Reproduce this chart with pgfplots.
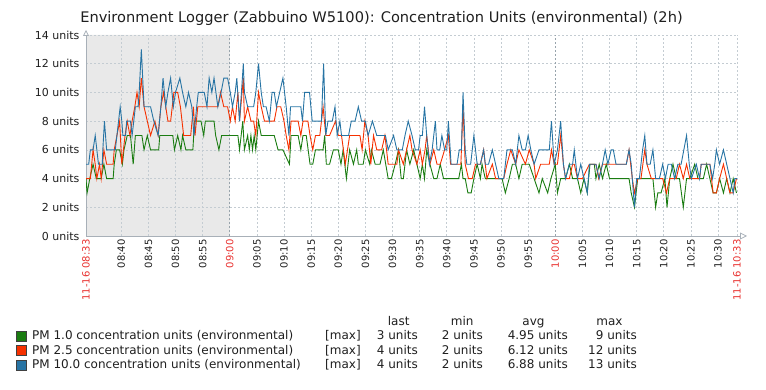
\documentclass[border=0pt]{standalone}
\usepackage{fontspec}
\setmainfont{DejaVu Sans}
\usepackage{pgfplots}
\pgfplotsset{compat=1.18}
\usetikzlibrary{arrows.meta}
\definecolor{cgreen}{HTML}{1A7C11}
\definecolor{cred}{HTML}{F63100}
\definecolor{cblue}{HTML}{2774A4}
\definecolor{gridc}{HTML}{C4CCD2}
\definecolor{gridh}{HTML}{98A4AC}
\definecolor{axisc}{HTML}{A8B0B8}
\definecolor{shade}{HTML}{E9E9E9}
\definecolor{txt}{HTML}{1F1F1F}
\definecolor{tred}{HTML}{E8312F}
\begin{document}
\begin{tikzpicture}[x=1pt,y=1pt]
\path (0,0) rectangle (766,390);
\node[anchor=base, font=\fontsize{14.6}{16}\selectfont, text=txt] at (381.5,367) {Environment Logger (Zabbuino W5100): Concentration Units (environmental) (2h)};
\begin{axis}[
 set layers,
 scale only axis, width=651pt, height=201pt,
 at={(86pt,154pt)}, anchor=south west,
 xmin=33.5, xmax=153.5, ymin=0, ymax=14,
 axis x line=bottom, axis y line=left,
 axis line style={draw=axisc, line width=0.8pt},
 x axis line style={-{Triangle[open,length=7pt,width=7pt]}, shorten >=-10pt},
 y axis line style={-{Triangle[open,length=6pt,width=6pt]}, shorten >=-5pt},
 major tick length=0pt,
 xmajorgrids, ymajorgrids,
 major grid style={draw=gridc, dash pattern=on 2pt off 2pt, line width=0.6pt},
 ytick={0,2,4,6,8,10,12,14},
 yticklabels={0 units,2 units,4 units,6 units,8 units,10 units,12 units,14 units},
 yticklabel style={font=\fontsize{11}{12}\selectfont, text=txt, xshift=-3pt},
 xtick={33.5,40,45,50,55,60,65,70,75,80,85,90,95,100,105,110,115,120,125,130,135,140,145,150,153.5},
 xticklabels={\textcolor{tred}{11-16 08:33},08:40,08:45,08:50,08:55,\textcolor{tred}{09:00},09:05,09:10,09:15,09:20,09:25,09:30,09:35,09:40,09:45,09:50,09:55,\textcolor{tred}{10:00},10:05,10:10,10:15,10:20,10:25,10:30,\textcolor{tred}{11-16 10:33}},
 xticklabel style={rotate=90, anchor=east, font=\fontsize{10}{11}\selectfont, text=txt},
 clip=true,
]
\addplot[fill=shade, draw=none, on layer=axis background, forget plot] coordinates {(33.5,0)(60,0)(60,14)(33.5,14)} \closedcycle;
\draw[gridh, dash pattern=on 2pt off 2pt, line width=0.6pt] (axis cs:60,0) -- (axis cs:60,14);
\draw[gridh, dash pattern=on 2pt off 2pt, line width=0.6pt] (axis cs:120,0) -- (axis cs:120,14);
\addplot[cgreen, line width=0.9pt] coordinates {
(33.5,4)(33.7,3)(34.2,4)(34.8,5)(35.4,4)(36.3,4)(36.8,5)(37.3,4)(38.5,4)(38.7,5)(39.1,6)(39.7,6)(40.2,5)(40.5,6)(41.1,7)(41.7,7)(42.2,5)(42.6,7)(43.8,7)(44.2,6)(44.8,7)(45.4,6)(46.9,6)(47.1,7)(49.5,7)(49.8,6)(50.4,7)(51.0,6)(51.3,7)(51.9,6)(53.2,6)(53.5,8)(54.7,8)(55.2,7)(55.5,8)(57.1,8)(57.4,7)(58.0,6)(58.5,7)(61.5,7)(61.8,6)(62.4,8)(62.7,6)(63.3,7)(63.6,6)(63.9,7)(64.2,6)(64.5,7)(64.8,6)(65.3,8)(65.8,7)(68.2,7)(68.9,6)(69.8,6)(71.0,5)(71.3,7)(72.6,7)(73.1,6)(73.5,7)(74.1,7)(74.8,5)(75.3,5)(75.8,6)(77.2,6)(77.5,7)(77.8,5)(78.4,5)(79.1,6)(80.0,6)(80.5,5)(80.9,6)(81.5,4)(82.1,6)(82.8,5)(83.4,6)(83.7,5)(84.6,5)(85.0,6)(85.8,5)(86.1,6)(86.8,5)(87.7,5)(88.3,6)(89.2,4)(89.8,4)(90.5,5)(91.1,6)(91.6,4)(92.0,4)(92.6,6)(93.2,5)(93.9,6)(94.5,5)(95.1,4)(95.5,5)(95.9,4)(96.3,6)(96.9,5)(97.6,4)(98.2,4)(98.8,5)(99.4,4)(102.2,4)(102.7,5)(103.0,4)(103.4,4)(103.9,3)(104.5,3)(105.0,4)(105.6,5)(106.2,4)(106.5,5)(107.1,4)(110.2,4)(110.8,3)(111.5,4)(112.1,5)(112.7,5)(113.3,4)(113.9,5)(115.2,5)(116.1,4)(117.0,3)(117.6,4)(118.6,3)(119.2,4)(120.0,5)(120.4,3)(121.0,4)(121.9,4)(122.6,5)(123.2,4)(123.5,4)(124.1,4)(124.7,3)(125.3,4)(125.9,3)(126.4,5)(127.2,5)(127.5,4)(128.1,5)(128.7,4)(129.4,5)(130.0,4)(133.6,4)(134.0,3)(134.6,2)(135.2,4)(138.0,4)(138.5,2)(138.9,3)(139.5,3)(140.2,4)(140.6,2)(141.1,4)(141.7,5)(142.3,4)(142.9,4)(143.6,2)(144.2,4)(144.8,4)(145.7,5)(146.3,4)(147.3,4)(147.9,5)(148.5,4)(149.1,3)(149.7,3)(150.3,4)(151.0,3)(151.6,4)(152.2,3)(152.8,4)(153.4,3)
};
\addplot[cred, line width=0.9pt] coordinates {
(33.5,4)(34.3,4)(34.8,6)(35.2,5)(35.5,4)(36.0,5)(36.3,4)(36.8,6)(37.3,5)(38.5,5)(38.7,6)(39.2,7)(39.7,8)(40.1,5)(40.7,7)(41.1,8)(41.6,7)(42.0,8)(42.5,9)(42.9,10)(43.3,9)(43.7,11)(44.2,9)(44.8,8)(45.4,7)(46.2,8)(46.8,7)(47.3,9)(47.8,10)(48.2,9)(48.6,8)(49.1,8)(49.7,10)(50.4,10)(50.9,9)(51.5,7)(52.8,7)(53.3,9)(53.6,7)(54.1,9)(57.8,9)(58.3,10)(58.9,9)(59.6,9)(60.1,8)(60.5,9)(61.0,8)(61.5,10)(61.8,8)(62.5,11)(62.7,8)(63.3,9)(63.9,8)(64.4,8)(64.8,7)(65.3,10)(65.8,9)(66.4,8)(68.2,8)(68.7,9)(69.4,9)(70.0,8)(70.4,7)(70.9,6)(71.3,8)(72.6,8)(73.1,7)(73.5,8)(74.4,8)(74.8,7)(75.3,6)(75.8,7)(76.6,7)(77.2,9)(77.7,7)(78.4,7)(79.5,8)(80.0,7)(80.6,7)(81.3,5)(82.1,7)(84.0,7)(84.4,6)(84.9,8)(85.5,7)(86.0,5)(86.5,7)(87.1,6)(88.0,6)(88.6,7)(89.2,5)(90.8,5)(91.1,6)(92.0,5)(92.6,6)(93.2,7)(93.6,6)(94.5,5)(95.1,6)(95.5,5)(96.0,6)(96.3,7)(96.9,5)(97.6,6)(98.2,5)(98.8,5)(99.6,6)(100.3,7)(100.7,5)(102.6,5)(103.0,9)(103.4,5)(104.0,4)(104.7,4)(105.3,5)(106.2,5)(106.8,6)(107.4,4)(108.4,5)(109.0,4)(110.5,4)(111.1,5)(111.8,6)(112.7,5)(113.3,6)(114.5,5)(115.2,6)(116.1,5)(116.4,4)(117.3,5)(118.9,5)(119.3,6)(119.8,5)(120.4,5)(121.0,7)(121.5,5)(121.9,4)(122.6,4)(123.2,5)(123.5,5)(124.1,4)(125.0,4)(126.3,5)(127.5,5)(128.0,4)(128.7,5)(133.1,5)(133.6,6)(134.2,4)(134.6,3)(135.2,4)(135.8,4)(136.5,6)(136.9,5)(137.7,4)(139.8,4)(140.5,3)(141.1,4)(142.3,4)(142.9,5)(143.6,4)(144.2,5)(144.8,4)(146.6,4)(146.9,5)(148.5,5)(149.1,3)(149.7,3)(150.3,4)(151.0,5)(151.6,4)(152.2,3)(152.8,3)(153.4,4)
};
\addplot[cblue, line width=0.9pt] coordinates {
(33.5,5)(34.0,5)(34.3,6)(34.8,6)(35.2,7)(35.5,6)(35.8,5)(36.5,5)(36.6,6)(36.9,8)(37.3,6)(38.9,6)(39.2,7)(39.5,8)(39.8,9)(40.1,8)(40.3,7)(40.8,7)(41.0,8)(41.7,8)(42.0,7)(42.3,8)(42.6,9)(43.1,9)(43.3,10)(43.7,13)(44.2,9)(45.4,9)(46.0,8)(46.8,7)(47.3,9)(47.7,11)(48.2,9)(48.6,10)(49.1,11)(49.6,9)(50.0,10)(50.8,11)(51.3,10)(51.9,9)(52.4,10)(53.0,9)(53.4,7)(53.9,9)(54.2,10)(55.3,10)(55.8,9)(56.2,11)(56.7,10)(57.1,11)(57.8,9)(58.4,10)(58.9,11)(59.6,11)(60.1,10)(60.5,9)(61.0,10)(61.3,11)(61.8,8)(62.5,12)(62.7,10)(63.3,9)(64.4,9)(64.8,10)(65.3,12)(65.8,10)(66.2,9)(66.7,9)(67.3,8)(67.8,10)(68.2,10)(68.6,9)(69.2,10)(69.8,11)(70.4,9)(70.9,7)(71.2,9)(73.1,9)(73.4,8)(73.8,10)(74.7,10)(75.2,8)(76.9,8)(77.3,12)(77.7,7)(78.1,8)(78.9,8)(79.4,9)(79.8,7)(80.3,8)(80.6,7)(81.9,7)(82.4,8)(83.1,8)(83.7,9)(84.3,8)(85.0,8)(85.5,7)(86.3,8)(87.1,7)(88.7,7)(89.2,6)(90.2,7)(90.8,6)(91.8,6)(92.3,7)(92.9,8)(93.6,7)(94.2,6)(94.8,6)(95.1,7)(95.5,7)(95.9,9)(96.3,7)(96.8,5)(97.3,6)(97.9,8)(98.2,6)(98.7,6)(99.1,7)(99.6,6)(100.0,6)(100.3,8)(100.8,5)(101.9,5)(102.3,6)(102.7,6)(103.0,10)(103.4,6)(103.7,5)(104.4,5)(105.0,7)(105.6,5)(106.2,5)(106.8,6)(107.1,5)(107.7,5)(108.4,6)(109.0,5)(109.6,4)(110.5,4)(111.1,6)(112.1,6)(112.7,5)(113.3,7)(113.9,6)(114.5,6)(115.0,7)(115.5,6)(116.1,5)(117.0,6)(118.9,6)(119.3,8)(119.8,5)(120.4,6)(121.0,8)(121.5,5)(121.9,4)(122.6,5)(123.2,5)(123.5,6)(124.1,4)(124.7,5)(125.3,4)(125.9,3)(126.3,5)(127.5,5)(128.1,4)(128.7,5)(129.2,6)(129.7,5)(130.3,6)(130.7,6)(131.2,5)(133.1,5)(133.6,6)(134.0,5)(134.6,2)(135.0,4)(135.5,4)(136.1,6)(136.5,7)(136.9,5)(137.5,5)(138.0,6)(138.5,4)(139.2,4)(139.8,5)(140.3,4)(140.8,5)(141.4,5)(142.0,4)(142.6,5)(143.2,5)(143.7,6)(144.2,7)(144.7,5)(145.1,4)(146.0,5)(146.6,4)(146.9,5)(148.5,5)(149.0,4)(149.4,5)(149.7,6)(150.3,5)(151.0,6)(151.6,5)(152.2,4)(152.8,3)(153.1,4)(153.5,4)
};
\end{axis}
% legend
\begin{scope}[font=\fontsize{12}{13}\selectfont, text=txt]
\node[anchor=base east] at (413,64) {last};
\node[anchor=base east] at (477,64) {min};
\node[anchor=base east] at (548,64) {avg};
\node[anchor=base east] at (626,64) {max};
\draw[draw=black!75, fill=cgreen] (16,49) rectangle (26,59);
\draw[draw=black!75, fill=cred] (16,34.5) rectangle (26,44.5);
\draw[draw=black!75, fill=cblue] (16,20) rectangle (26,30);
\node[anchor=base west, inner sep=0pt] at (32,50) {PM 1.0 concentration units (environmental)};
\node[anchor=base west, inner sep=0pt] at (32,35.5) {PM 2.5 concentration units (environmental)};
\node[anchor=base west, inner sep=0pt] at (32,21) {PM 10.0 concentration units (environmental)};
\foreach \y in {50,35.5,21} {\node[anchor=base west, inner sep=0pt] at (325,\y) {[max]};}
\node[anchor=base east, inner sep=0pt] at (418,50) {3 units};
\node[anchor=base east, inner sep=0pt] at (418,35.5) {4 units};
\node[anchor=base east, inner sep=0pt] at (418,21) {4 units};
\node[anchor=base east, inner sep=0pt] at (483,50) {2 units};
\node[anchor=base east, inner sep=0pt] at (483,35.5) {2 units};
\node[anchor=base east, inner sep=0pt] at (483,21) {2 units};
\node[anchor=base east, inner sep=0pt] at (568,50) {4.95 units};
\node[anchor=base east, inner sep=0pt] at (568,35.5) {6.12 units};
\node[anchor=base east, inner sep=0pt] at (568,21) {6.88 units};
\node[anchor=base east, inner sep=0pt] at (637,50) {9 units};
\node[anchor=base east, inner sep=0pt] at (637,35.5) {12 units};
\node[anchor=base east, inner sep=0pt] at (637,21) {13 units};
\end{scope}
\end{tikzpicture}
\end{document}
